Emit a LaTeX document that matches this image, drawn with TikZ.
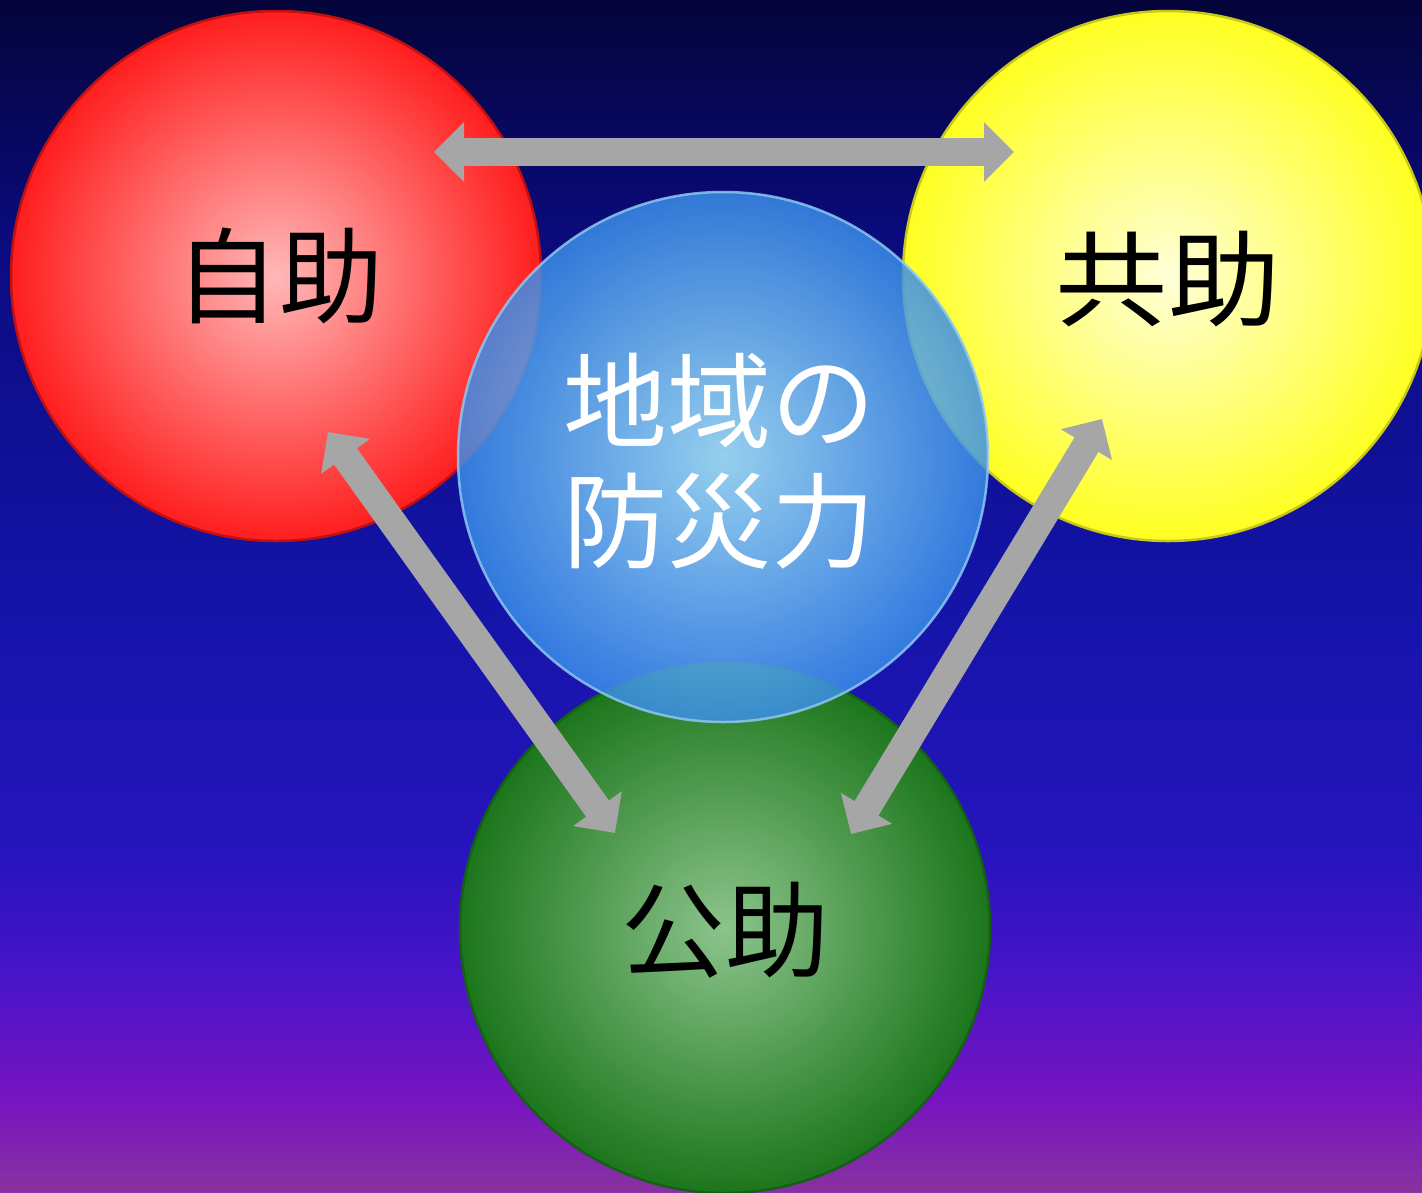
\documentclass[tikz,border=0pt]{standalone}
\usepackage{fontspec}
\newfontfamily\cjk{Noto Sans CJK JP}
\usetikzlibrary{arrows.meta}
\definecolor{bgA}{HTML}{04043A}
\definecolor{bgB}{HTML}{0B0B80}
\definecolor{bgC}{HTML}{1414A8}
\definecolor{bgD}{HTML}{2614BC}
\definecolor{bgE}{HTML}{4A14C8}
\definecolor{bgF}{HTML}{7814C0}
\definecolor{bgG}{HTML}{8832A0}
\definecolor{arrowgray}{HTML}{A6A6A6}
\definecolor{redIn}{HTML}{FFB8B8}
\definecolor{redOut}{HTML}{FF1E1E}
\definecolor{redRim}{HTML}{C01010}
\definecolor{yelIn}{HTML}{FFFFD8}
\definecolor{yelOut}{HTML}{FFFF22}
\definecolor{yelRim}{HTML}{C8C818}
\definecolor{grnIn}{HTML}{8CC48C}
\definecolor{grnOut}{HTML}{1C761C}
\definecolor{grnRim}{HTML}{146014}
\definecolor{bluIn}{HTML}{B0F4FF}
\definecolor{bluOut}{HTML}{3A8EEA}
\definecolor{bluRim}{HTML}{90C8F0}
\tikzset{
  ball/.style={circle, minimum size=530pt, inner sep=0pt, line width=2.5pt},
  redball/.style={ball, shading=radial, inner color=redIn, outer color=redOut, draw=redRim},
  yelball/.style={ball, shading=radial, inner color=yelIn, outer color=yelOut, draw=yelRim},
  grnball/.style={ball, shading=radial, inner color=grnIn, outer color=grnOut, draw=grnRim},
  bluball/.style={ball, shading=radial, inner color=bluIn, outer color=bluOut, draw=bluRim, opacity=0.84},
  dblarrow/.style={draw=arrowgray, line width=28pt,
    {Triangle[length=30pt,width=58pt]}-{Triangle[length=30pt,width=58pt]}},
  blacklabel/.style={font=\cjk\fontsize{104}{118}\selectfont, text=black, inner sep=0pt},
  whitelabel/.style={font=\cjk\fontsize{104}{118}\selectfont, text=white, inner sep=0pt}
}
\begin{document}
\begin{tikzpicture}[x=1pt,y=-1pt]
\useasboundingbox (0,0) rectangle (1422,1192);
% background gradient
\fill[top color=bgA, bottom color=bgB] (0,0) rectangle (1422,250.5);
\fill[top color=bgB, bottom color=bgC] (0,250) rectangle (1422,600.5);
\fill[top color=bgC, bottom color=bgD] (0,600) rectangle (1422,850.5);
\fill[top color=bgD, bottom color=bgE] (0,850) rectangle (1422,980.5);
\fill[top color=bgE, bottom color=bgF] (0,980) rectangle (1422,1100.5);
\fill[top color=bgF, bottom color=bgG] (0,1100) rectangle (1422,1192);
% circles
\node[redball] (jijo) at (276,276) {};
\node[yelball] (kyojo) at (1168,276) {};
\node[grnball] (kojo) at (725,928) {};
\node[bluball] (chiiki) at (723,457) {};
% arrow end points
\coordinate (a1) at (434,152);
\coordinate (a2) at (1014,152);
\coordinate (b1) at (328,432);
\coordinate (b2) at (615,833);
\coordinate (c1) at (1102,419);
\coordinate (c2) at (851,834);
\draw[dblarrow] (a1) -- (a2);
\draw[dblarrow] (b1) -- (b2);
\draw[dblarrow] (c1) -- (c2);
% labels
\node[blacklabel] (tjijo) at (279,276) {自助};
\node[blacklabel, xscale=1.08] (tkyojo) at (1168,279) {共助};
\node[blacklabel] (tkojo) at (725,930) {公助};
\node[whitelabel] (tchiiki1) at (719,401) {地域の};
\node[whitelabel] (tchiiki2) at (719,521) {防災力};
\end{tikzpicture}
\end{document}
